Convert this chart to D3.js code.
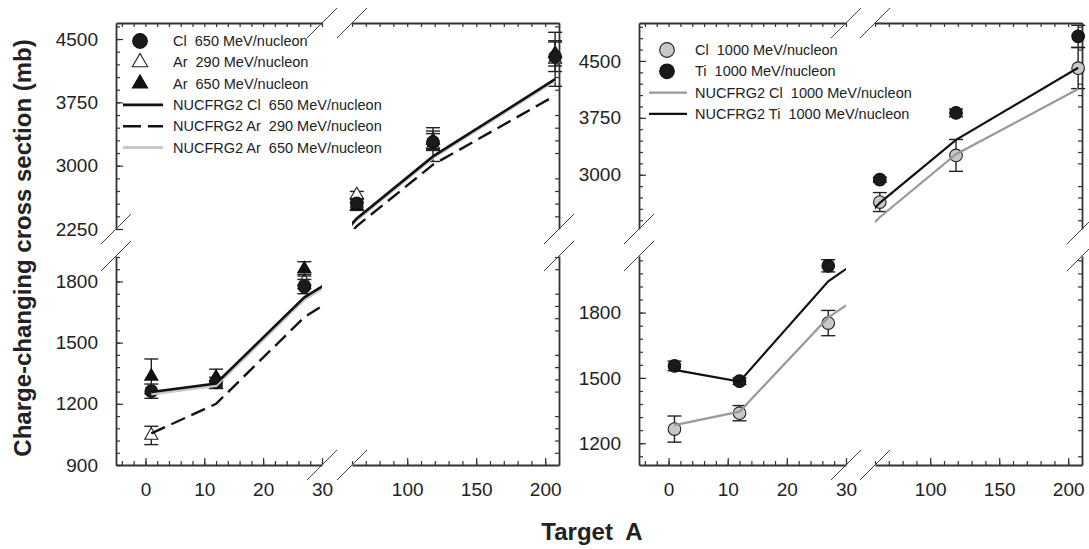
<!DOCTYPE html>
<html>
<head>
<meta charset="utf-8">
<script src="https://cdn.jsdelivr.net/npm/d3@7"></script>
<style>
body { margin: 0; background: #fff; }
text { font-family: "Liberation Sans", Arial, Helvetica, sans-serif; }
</style>
</head>
<body>
<svg id="chart" width="1089" height="549"></svg>
<script>
// target mass numbers (H, C, Al, Cu, Sn, Pb)
var targetA = [1, 12, 27, 63.5, 118.7, 207.2];

// left panel: measured charge-changing cross sections (mb) and errors
var cl650    = [1262, 1305, 1775, 2555, 3280, 4290];
var cl650Err = [35, 25, 35, 45, 100, 175];
var ar290    = [1045, 1295, 1800, 2655, 3250, 4260];
var ar290Err = [45, 20, 35, 40, 200, 320];
var ar650    = [1335, 1330, 1862, 2520, 3300, 4330];
var ar650Err = [85, 40, 35, 50, 110, 150];

// left panel: NUCFRG2 model
var nucCl650 = [1258, 1300, 1722, 2375, 3110, 4025];
var nucAr290 = [1055, 1200, 1625, 2285, 3012, 3830];
var nucAr650 = [1248, 1290, 1712, 2360, 3095, 4010];

// right panel: measured
var cl1000    = [1265, 1338, 1752, 2640, 3255, 4405];
var cl1000Err = [60, 35, 58, 125, 210, 270];
var ti1000    = [1555, 1485, 2015, 2935, 3815, 4825];
var ti1000Err = [22, 15, 28, 32, 50, 145];

// right panel: NUCFRG2 model
var nucCl1000 = [1283, 1345, 1778, 2440, 3270, 4130];
var nucTi1000 = [1537, 1483, 1944, 2630, 3460, 4410];

// tick labels
var xLowTicks  = [0, 10, 20, 30];
var xHighTicks = [100, 150, 200];
var yLowTicksL  = [900, 1200, 1500, 1800];
var yHighTicksL = [2250, 3000, 3750, 4500];
var yLowTicksR  = [1200, 1500, 1800];
var yHighTicksR = [3000, 3750, 4500];

var svg = d3.select("#chart");
var yTop = 23, yBrkHi = 229, yBrkLo = 256, yBot = 465;
var axisCol = "#333", textCol = "#222";

function addAxis(g, axisFn, scale, major, minor, size, labels, pad) {
  var a = g.append("g").call(axisFn(scale).tickValues(minor).tickSize(-4).tickSizeOuter(0).tickFormat(""));
  a.select(".domain").attr("stroke", axisCol).attr("stroke-width", 1.8);
  a.selectAll(".tick line").attr("stroke", axisCol).attr("stroke-width", 1.2);
  if (major) {
    var b = g.append("g").call(axisFn(scale).tickValues(major).tickSize(-size).tickSizeOuter(0)
      .tickPadding(pad || 18).tickFormat(labels ? d3.format("d") : ""));
    b.select(".domain").remove();
    b.selectAll(".tick line").attr("stroke", axisCol).attr("stroke-width", 1.2);
    b.selectAll("text").attr("font-size", 19).attr("fill", textCol)
      .style("font-family", "'Liberation Sans', Arial, sans-serif");
  }
}

function slash(cx, cy) {
  svg.append("line").attr("x1", cx - 15).attr("y1", cy + 15).attr("x2", cx + 15).attr("y2", cy - 15)
    .attr("stroke", "#444").attr("stroke-width", 1);
}

function drawPanel(id, cfg) {
  var xl = d3.scaleLinear().domain([-5, 30]).range([cfg.x0, cfg.x1]);
  var xh = d3.scaleLinear().domain([60, 210]).range([cfg.x2, cfg.x3]);
  var yl = d3.scaleLinear().domain(cfg.yLowDom).range([yBot, yBrkLo]);
  var yh = d3.scaleLinear().domain(cfg.yHighDom).range([yBrkHi, yTop]);

  var quads = [
    {x: xl, y: yl, sel: function (a) { return a <= 30; }, rect: [cfg.x0, yBrkLo, cfg.x1 - cfg.x0, yBot - yBrkLo]},
    {x: xh, y: yh, sel: function (a) { return a >= 60; }, rect: [cfg.x2, yTop, cfg.x3 - cfg.x2, yBrkHi - yTop]}
  ];

  // axes
  var minorXl = d3.range(-4, 31, 2), minorXh = d3.range(60, 211, 10);
  var bot = svg.append("g").attr("transform", "translate(0," + yBot + ")");
  addAxis(bot, d3.axisBottom, xl, xLowTicks, minorXl, 7, true);
  addAxis(bot, d3.axisBottom, xh, xHighTicks, minorXh, 7, true);
  var top = svg.append("g").attr("transform", "translate(0," + yTop + ")");
  addAxis(top, d3.axisTop, xl, null, minorXl, 7, false);
  addAxis(top, d3.axisTop, xh, null, minorXh, 7, false);

  var lft = svg.append("g").attr("transform", "translate(" + cfg.x0 + ",0)");
  addAxis(lft, d3.axisLeft, yl, cfg.yLowTicks, cfg.yLowMinor, 7, true);
  addAxis(lft, d3.axisLeft, yh, cfg.yHighTicks, cfg.yHighMinor, 7, true);
  var rgt = svg.append("g").attr("transform", "translate(" + cfg.x3 + ",0)");
  addAxis(rgt, d3.axisRight, yl, null, cfg.yLowMinor.filter(function (v) { return cfg.yLowTicks.indexOf(v) < 0; }), 7, false);
  addAxis(rgt, d3.axisRight, yh, null, cfg.yHighMinor.filter(function (v) { return cfg.yHighTicks.indexOf(v) < 0; }), 7, false);

  // break marks
  [[cfg.x1, yTop], [cfg.x2, yTop], [cfg.x1, yBot], [cfg.x2, yBot],
   [cfg.x0, yBrkHi], [cfg.x0, yBrkLo], [cfg.x3, yBrkHi], [cfg.x3, yBrkLo]].forEach(function (p) { slash(p[0], p[1]); });

  quads.forEach(function (q, qi) {
    var cid = id + "_clip" + qi;
    svg.append("clipPath").attr("id", cid).append("rect")
      .attr("x", q.rect[0]).attr("y", q.rect[1]).attr("width", q.rect[2]).attr("height", q.rect[3]);

    // markers with error bars
    cfg.points.forEach(function (s) {
      var g = svg.append("g");
      targetA.forEach(function (a, i) {
        if (!q.sel(a)) return;
        var cx = q.x(a), v = s.values[i], e = s.err[i];
        g.append("line").attr("x1", cx).attr("x2", cx).attr("y1", q.y(v - e)).attr("y2", q.y(v + e))
          .attr("stroke", "#222").attr("stroke-width", 1.4);
        [v - e, v + e].forEach(function (c) {
          g.append("line").attr("x1", cx - 7).attr("x2", cx + 7).attr("y1", q.y(c)).attr("y2", q.y(c))
            .attr("stroke", "#222").attr("stroke-width", 1.4);
        });
        g.append("path").attr("d", d3.symbol().type(s.shape).size(s.size)())
          .attr("transform", "translate(" + cx + "," + q.y(v) + ")")
          .attr("fill", s.fill).attr("stroke", s.stroke).attr("stroke-width", 1.1);
      });
    });

    // model lines
    cfg.models.forEach(function (m) {
      var line = d3.line().x(function (d) { return q.x(d[0]); }).y(function (d) { return q.y(d[1]); });
      svg.append("path").datum(targetA.map(function (a, i) { return [a, m.values[i]]; }))
        .attr("clip-path", "url(#" + cid + ")")
        .attr("d", line).attr("fill", "none").attr("stroke", m.color)
        .attr("stroke-width", m.width).attr("stroke-dasharray", m.dash || null);
    });
  });

  // legend
  var lg = cfg.legend;
  cfg.legendItems.forEach(function (it, i) {
    var yy = lg.y + i * lg.dy;
    if (it.shape) {
      svg.append("path").attr("d", d3.symbol().type(it.shape).size(it.size * 1.35)())
        .attr("transform", "translate(" + lg.mx + "," + yy + ")")
        .attr("fill", it.fill).attr("stroke", it.stroke).attr("stroke-width", 1.1);
    } else {
      svg.append("line").attr("x1", lg.lx0).attr("x2", lg.lx1).attr("y1", yy).attr("y2", yy)
        .attr("stroke", it.color).attr("stroke-width", it.width)
        .attr("stroke-dasharray", it.dash ? "18,7" : null);
    }
    svg.append("text").attr("x", lg.tx).attr("y", yy + 5).attr("font-size", 14.5).attr("fill", textCol)
      .style("white-space", "pre").text(it.label);
  });
}

var ptSize = 125, triSize = 75;

var sCl650 = {label: "Cl  650 MeV/nucleon", values: cl650, err: cl650Err, shape: d3.symbolCircle, size: ptSize, fill: "#1a1a1a", stroke: "#111"};
var sAr290 = {label: "Ar  290 MeV/nucleon", values: ar290, err: ar290Err, shape: d3.symbolTriangle, size: triSize, fill: "#fff", stroke: "#222"};
var sAr650 = {label: "Ar  650 MeV/nucleon", values: ar650, err: ar650Err, shape: d3.symbolTriangle, size: triSize, fill: "#111", stroke: "#111"};
var mCl650 = {label: "NUCFRG2 Cl  650 MeV/nucleon", values: nucCl650, color: "#111", width: 2.6};
var mAr290 = {label: "NUCFRG2 Ar  290 MeV/nucleon", values: nucAr290, color: "#111", width: 2.4, dash: "15,7"};
var mAr650 = {label: "NUCFRG2 Ar  650 MeV/nucleon", values: nucAr650, color: "#c8c8c8", width: 3};

drawPanel("left", {
  x0: 116, x1: 322, x2: 352, x3: 559,
  yLowDom: [900, 1925], yHighDom: [2250, 4690],
  yLowTicks: yLowTicksL, yHighTicks: yHighTicksL,
  yLowMinor: d3.range(900, 1921, 60), yHighMinor: d3.range(2250, 4651, 150),
  points: [sAr290, sAr650, sCl650],
  models: [mAr290, mAr650, mCl650],
  legendItems: [sCl650, sAr290, sAr650, mCl650, mAr290, mAr650],
  legend: {y: 41, dy: 21.3, mx: 140, tx: 173, lx0: 123, lx1: 163}
});

var sCl1000 = {label: "Cl  1000 MeV/nucleon", values: cl1000, err: cl1000Err, shape: d3.symbolCircle, size: ptSize, fill: "#c8c8c8", stroke: "#222"};
var sTi1000 = {label: "Ti  1000 MeV/nucleon", values: ti1000, err: ti1000Err, shape: d3.symbolCircle, size: ptSize, fill: "#1a1a1a", stroke: "#111"};
var mCl1000 = {label: "NUCFRG2 Cl  1000 MeV/nucleon", values: nucCl1000, color: "#999", width: 2.2};
var mTi1000 = {label: "NUCFRG2 Ti  1000 MeV/nucleon", values: nucTi1000, color: "#111", width: 2.2};

drawPanel("right", {
  x0: 639, x1: 846, x2: 875, x3: 1082,
  yLowDom: [1100, 2060], yHighDom: [2285, 5000],
  yLowTicks: yLowTicksR, yHighTicks: yHighTicksR,
  yLowMinor: d3.range(1140, 2041, 60), yHighMinor: d3.range(2400, 4951, 150),
  points: [sCl1000, sTi1000],
  models: [mCl1000, mTi1000],
  legendItems: [sCl1000, sTi1000, mCl1000, mTi1000],
  legend: {y: 50, dy: 21.3, mx: 667, tx: 695, lx0: 649, lx1: 687}
});

// axis titles
svg.append("text").attr("transform", "translate(31,248) rotate(-90)")
  .attr("text-anchor", "middle").attr("font-size", 24).attr("font-weight", "bold").attr("fill", textCol)
  .text("Charge-changing cross section (mb)");
svg.append("text").attr("x", 592).attr("y", 540)
  .attr("text-anchor", "middle").attr("font-size", 24).attr("font-weight", "bold").attr("fill", textCol)
  .style("white-space", "pre").text("Target  A");
</script>
</body>
</html>
